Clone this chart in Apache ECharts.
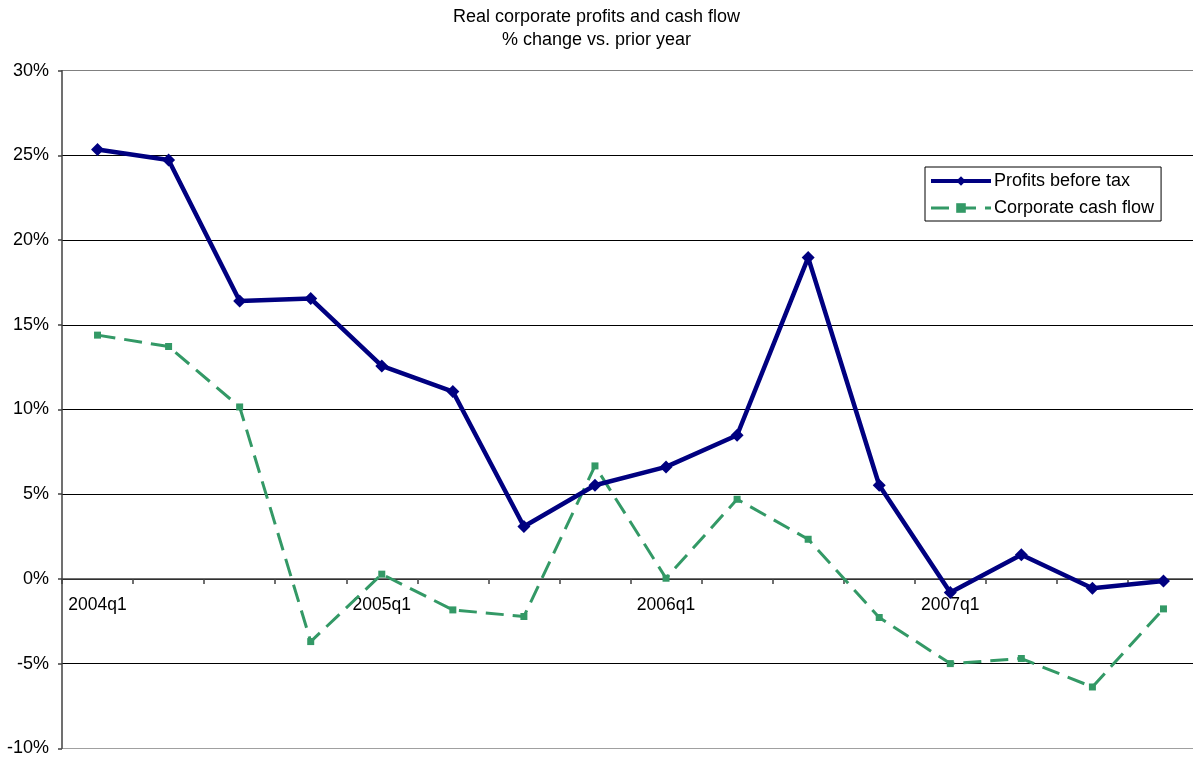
<!DOCTYPE html>
<html>
<head>
<meta charset="utf-8">
<script src="https://cdn.jsdelivr.net/npm/echarts@6/dist/echarts.min.js"></script>
<style>
html,body{margin:0;padding:0;background:#fff;}
#chart{width:1193px;height:757px;}
</style>
</head>
<body>
<div id="chart"></div>
<script>
var categories = ['2004q1','2004q2','2004q3','2004q4','2005q1','2005q2','2005q3','2005q4',
                  '2006q1','2006q2','2006q3','2006q4','2007q1','2007q2','2007q3','2007q4'];
var profitsBeforeTax = [25.35, 24.73, 16.41, 16.55, 12.57, 11.06, 3.09, 5.53,
                        6.61, 8.48, 18.97, 5.53, -0.8, 1.43, -0.55, -0.13];
var corporateCashFlow = [14.39, 13.72, 10.15, -3.7, 0.28, -1.83, -2.22, 6.67,
                         0.04, 4.7, 2.34, -2.28, -5.0, -4.7, -6.38, -1.77];
var yTicks = [-10, -5, 0, 5, 10, 15, 20, 25, 30];

var FONT = '"Liberation Sans", Arial, sans-serif';
var W = 1193, H = 757;
var gridTop = 70.7, gridBottom = 8.7, gridLeft = 62, gridRight = -6;
var yMin = yTicks[0], yMax = yTicks[yTicks.length - 1];
var plotH = H - gridTop - gridBottom;
// place the category axis on the zero line of the value scale
var xAxisOffset = -plotH * (0 - yMin) / (yMax - yMin);

var chart = echarts.init(document.getElementById('chart'), null, {renderer: 'canvas'});
chart.setOption({
  animation: false,
  backgroundColor: '#fff',
  textStyle: {fontFamily: FONT, color: '#000'},
  title: {
    text: 'Real corporate profits and cash flow\n% change vs. prior year',
    left: 'center',
    top: 1,
    textStyle: {fontFamily: FONT, fontSize: 18, fontWeight: 'normal', color: '#000', lineHeight: 23}
  },
  legend: {
    left: 925,
    top: 167,
    orient: 'vertical',
    borderColor: '#000',
    borderWidth: 1,
    borderRadius: 0,
    padding: [5, 7, 4, 4],
    itemWidth: 60,
    itemHeight: 12,
    itemGap: 9,
    textStyle: {fontFamily: FONT, fontSize: 18, color: '#000', padding: [0, 0, 0, -2]},
    data: [
      {name: 'Profits before tax', lineStyle: {width: 4}},
      {name: 'Corporate cash flow', lineStyle: {width: 3}}
    ]
  },
  grid: {left: gridLeft, right: gridRight, top: gridTop, bottom: gridBottom, containLabel: false, outerBoundsMode: 'none'},
  xAxis: {
    type: 'category',
    data: categories,
    boundaryGap: true,
    position: 'bottom',
    offset: xAxisOffset,
    axisLine: {onZero: false, lineStyle: {color: '#404040', width: 1.5}},
    axisTick: {show: true, interval: 0, length: 5, alignWithLabel: false, lineStyle: {color: '#404040', width: 1.5}},
    axisLabel: {
      interval: 3,
      fontFamily: FONT, fontSize: 17.5, color: '#000', margin: 17
    },
    splitLine: {show: false}
  },
  yAxis: {
    type: 'value',
    min: yMin,
    max: yMax,
    interval: 5,
    axisLine: {show: true, lineStyle: {color: '#404040', width: 1.5}},
    axisTick: {show: true, length: 4, lineStyle: {color: '#404040', width: 1.5}},
    axisLabel: {fontFamily: FONT, fontSize: 18, color: '#000', margin: 13, formatter: '{value}%'},
    splitLine: {
      show: true,
      lineStyle: {
        color: ['#a0a0a0', '#000', '#000', '#000', '#000', '#000', '#000', '#000', '#808080'],
        width: 1.2
      }
    }
  },
  series: [
    {
      name: 'Profits before tax',
      type: 'line',
      data: profitsBeforeTax,
      symbol: 'diamond',
      symbolSize: 13,
      showAllSymbol: true,
      lineStyle: {color: '#000080', width: 4.5},
      itemStyle: {color: '#000080'},
      z: 3
    },
    {
      name: 'Corporate cash flow',
      type: 'line',
      data: corporateCashFlow,
      symbol: 'rect',
      symbolSize: 7,
      showAllSymbol: true,
      lineStyle: {color: '#339966', width: 3, type: [18, 9]},
      itemStyle: {color: '#339966'},
      z: 2
    }
  ]
});
</script>
</body>
</html>
